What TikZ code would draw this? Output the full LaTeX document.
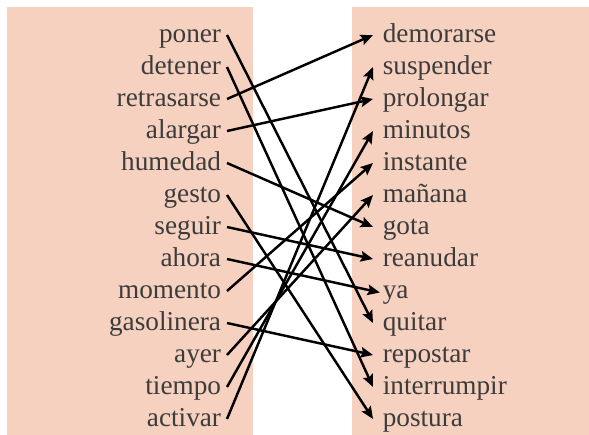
\documentclass[tikz,border=0pt]{standalone}
\usepackage{fontspec}
\setmainfont{Liberation Serif}
\usetikzlibrary{arrows.meta}
\definecolor{wsPeach}{RGB}{246,209,191}
\definecolor{wsText}{RGB}{60,60,60}

\begin{document}
\begin{tikzpicture}[
    x=0.02cm, y=-0.02cm,
    panel/.style={fill=wsPeach},
    word/.style={inner sep=0pt, text height=8pt, text depth=0pt, text=wsText,
      font=\fontsize{15.5}{18}\selectfont},
    left word/.style={word, anchor=east, outer xsep=3.4pt},
    right word/.style={word, anchor=west, outer xsep=5.6pt},
    link/.style={draw=black, line width=1.4pt, -{Stealth[length=7pt,width=6pt,inset=1.2pt]}}
]
  \useasboundingbox (0,0) rectangle (589,435);
  \fill[panel] (7,7) rectangle (253,435);
  \fill[panel] (352,7) rectangle (589,435);

  % left column
  \node[left word] (poner)      at (227,35)  {poner};
  \node[left word] (detener)    at (227,67)  {detener};
  \node[left word] (retrasarse) at (227,99)  {retrasarse};
  \node[left word] (alargar)    at (227,131) {alargar};
  \node[left word] (humedad)    at (227,163) {humedad};
  \node[left word] (gesto)      at (227,195) {gesto};
  \node[left word] (seguir)     at (227,227) {seguir};
  \node[left word] (ahora)      at (227,259) {ahora};
  \node[left word] (momento)    at (227,291) {momento};
  \node[left word] (gasolinera) at (227,323) {gasolinera};
  \node[left word] (ayer)       at (227,355) {ayer};
  \node[left word] (tiempo)     at (227,387) {tiempo};
  \node[left word] (activar)    at (227,419) {activar};

  % right column
  \node[right word] (demorarse)   at (373,35)  {demorarse};
  \node[right word] (suspender)   at (373,67)  {suspender};
  \node[right word] (prolongar)   at (373,99)  {prolongar};
  \node[right word] (minutos)     at (373,131) {minutos};
  \node[right word] (instante)    at (373,163) {instante};
  \node[right word] (manana)      at (373,195) {mañana};
  \node[right word] (gota)        at (373,227) {gota};
  \node[right word] (reanudar)    at (373,259) {reanudar};
  \node[right word] (ya)          at (373,291) {ya};
  \node[right word] (quitar)      at (373,323) {quitar};
  \node[right word] (repostar)    at (373,355) {repostar};
  \node[right word] (interrumpir) at (373,387) {interrumpir};
  \node[right word] (postura)     at (373,419) {postura};

  % matches
  \draw[link] (poner.east) -- (quitar.west);
  \draw[link] (detener.east) -- (interrumpir.west);
  \draw[link] (retrasarse.east) -- (demorarse.west);
  \draw[link] (alargar.east) -- (prolongar.west);
  \draw[link] (humedad.east) -- (gota.west);
  \draw[link] (gesto.east) -- (postura.west);
  \draw[link] (seguir.east) -- (reanudar.west);
  \draw[link, shorten >=-4pt] (ahora.east) -- (ya.west);
  \draw[link] (momento.east) -- (instante.west);
  \draw[link] (gasolinera.east) -- (repostar.west);
  \draw[link] (ayer.east) -- (manana.west);
  \draw[link] (tiempo.east) -- (minutos.west);
  \draw[link] (activar.east) -- (suspender.west);
\end{tikzpicture}
\end{document}
